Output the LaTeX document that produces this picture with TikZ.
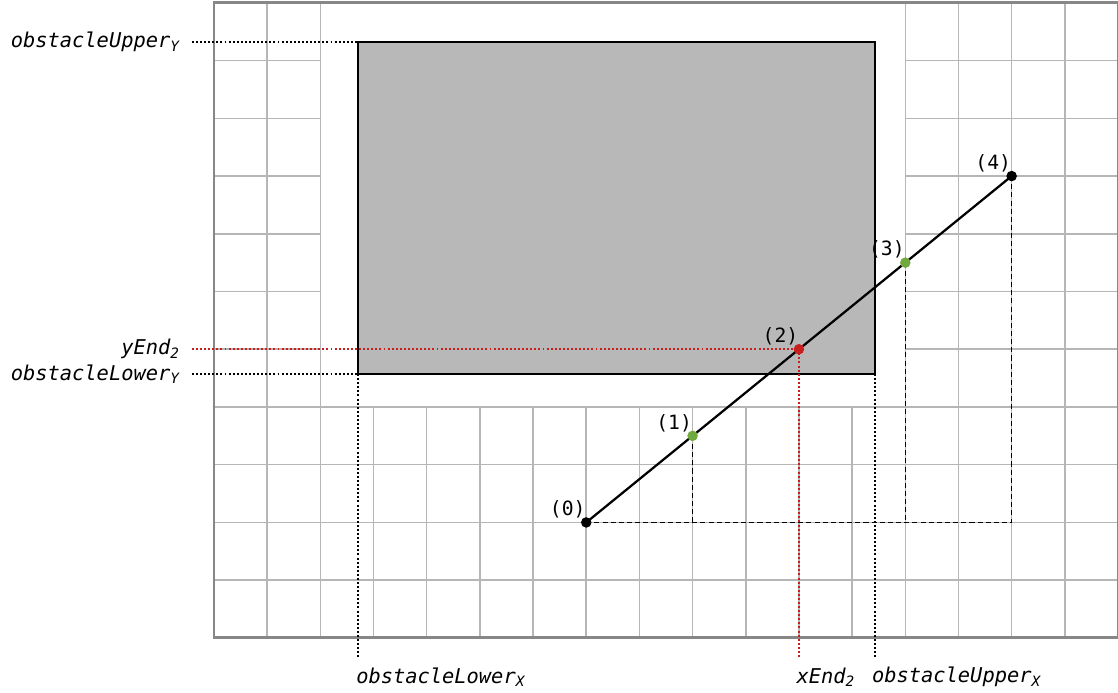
\documentclass[tikz,border=0pt]{standalone}
\usepackage{fontspec}
\setmonofont{DejaVu Sans Mono}
\usepackage{tikz}
\usetikzlibrary{positioning, calc}
\definecolor{gridgray}{RGB}{182,182,182}
\definecolor{framegray}{RGB}{135,135,135}
\definecolor{obsgray}{RGB}{184,184,184}
\definecolor{myred}{RGB}{200,30,30}
\definecolor{mygreen}{RGB}{112,170,62}
\tikzset{
  gridline/.style={gridgray, line width=1.1pt},
  dotline/.style={line width=1.5pt, dash pattern=on 1.4pt off 1.5pt},
  dashline/.style={line width=1pt, dash pattern=on 3.6pt off 2.2pt},
  lbl/.style={font=\fontsize{14.5}{17}\selectfont\ttfamily\itshape, inner sep=0pt}
}

\begin{document}
\begin{tikzpicture}[
  x=1.3295cm, y=1.4433cm,
  pt/.style={circle, fill=black, inner sep=0pt, minimum size=7.5pt},
  ptlbl/.style={font=\fontsize{14}{16}\selectfont\ttfamily, inner sep=1pt},
  segline/.style={line width=1.6pt}
]
\useasboundingbox (-4.024,-0.953) rectangle (17.0,11.05);

%--- grid, cleared round the obstacle ---
\draw[gridline, step=1] (0,0) grid (17,11);
\fill[white] (2,4) rectangle (13,11);
\draw[gridline] (2,4) rectangle (13,11);
\draw[framegray, line width=2pt] (0,0) rectangle (17,11);

%--- obstacle ---
\coordinate (obsLL) at (2.71,4.57);
\coordinate (obsUR) at (12.43,10.32);
\draw[fill=obsgray, line width=0.9pt] (obsLL) rectangle (obsUR);

%--- points on the line ---
\coordinate (p0) at (7,2);
\coordinate (p1) at (9,3.5);
\coordinate (p2) at (11,5);
\coordinate (p3) at (13,6.5);
\coordinate (p4) at (15,8);
\coordinate (base) at (p4 |- p0);

\draw[dashline] (p0) -- (base);
\draw[dashline] (p1) -- (p1 |- p0);
\draw[dashline] (p3) -- (p3 |- p0);
\draw[dashline] (p4) -- (base);
\draw[segline] (p0) -- (p4);

%--- left labels ---
\node[lbl, anchor=east] (upY)  at (-0.64,10.32) {obstacleUpper\textsubscript{Y}};
\node[lbl, anchor=east] (yEnd) at (-0.64,5)     {yEnd\textsubscript{2}};
\node[lbl, anchor=east] (loY)  at (-0.64,4.57)  {obstacleLower\textsubscript{Y}};
\draw[dotline] ([xshift=8.5pt]upY.east) -- (obsLL |- obsUR);
\draw[dotline] ([xshift=8.5pt]loY.east) -- (obsLL);
\draw[dotline, myred] ([xshift=8.5pt]yEnd.east) -- (p2);

%--- bottom labels ---
\node[lbl, anchor=west] (loX)  at (2.67,-0.68)  {obstacleLower\textsubscript{X}};
\node[lbl, anchor=west] (xEnd) at (10.95,-0.68) {xEnd\textsubscript{2}};
\node[lbl, anchor=west] (upX)  at (12.37,-0.68) {obstacleUpper\textsubscript{X}};
\coordinate (botEnd) at (0,-0.35);
\draw[dotline] (obsLL) -- (obsLL |- botEnd);
\draw[dotline] (obsUR |- obsLL) -- (obsUR |- botEnd);
\draw[dotline, myred] (p2) -- (p2 |- botEnd);

%--- dots and their labels ---
\node[pt]               (d0) at (p0) {};
\node[pt, fill=mygreen] (d1) at (p1) {};
\node[pt, fill=myred]   (d2) at (p2) {};
\node[pt, fill=mygreen] (d3) at (p3) {};
\node[pt]               (d4) at (p4) {};
\foreach \i in {0,...,4} {
  \node[ptlbl, above left=-1pt and -3.5pt of d\i] (l\i) {(\i)};
}
\end{tikzpicture}
\end{document}
